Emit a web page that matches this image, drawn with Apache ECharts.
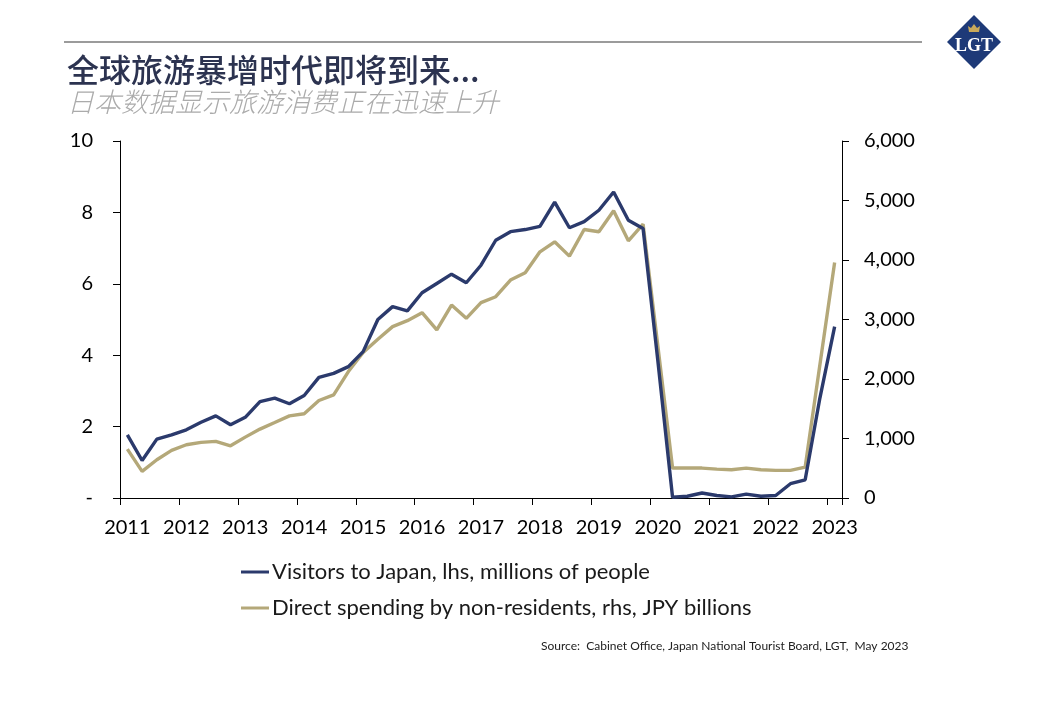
<!DOCTYPE html>
<html>
<head>
<meta charset="utf-8">
<script src="https://cdn.jsdelivr.net/npm/echarts@6/dist/echarts.min.js"></script>
<style>
html,body{margin:0;padding:0;background:#fff;}
#chart{width:1040px;height:720px;}
</style>
</head>
<body>
<div id="chart"></div>
<script>
// ---- Data ----
var years = ["2011","2012","2013","2014","2015","2016","2017","2018","2019","2020","2021","2022","2023"];
var quarterNames = ["Q1","Q2","Q3","Q4"];
// Visitors to Japan, lhs, millions of people (quarterly, 2011Q1 - 2023Q1)
var visitors = [1.77,1.05,1.65,1.77,1.91,2.12,2.30,2.05,2.26,2.70,
                2.80,2.64,2.87,3.38,3.49,3.68,4.10,5.00,5.36,5.24,
                5.75,6.01,6.27,6.03,6.52,7.22,7.46,7.52,7.61,8.29,
                7.57,7.74,8.06,8.57,7.78,7.55,3.85,0.02,0.05,0.14,
                0.07,0.03,0.11,0.05,0.07,0.40,0.51,2.80,4.80];
// Direct spending by non-residents, rhs, JPY billions
var spending = [822,447,643,800,895,934,951,878,1023,1158,
                1269,1381,1415,1638,1734,2125,2444,2667,2880,2980,
                3115,2824,3243,3020,3283,3383,3663,3786,4138,4306,
                4065,4513,4474,4826,4323,4602,2560,503,503,503,
                486,475,503,475,464,464,520,2240,3959];
var seriesNames = ["Visitors to Japan, lhs, millions of people",
                   "Direct spending by non-residents, rhs, JPY billions"];
var titleText = "全球旅游暴增时代即将到来...";
var subtitleText = "日本数据显示旅游消费正在迅速上升";
var sourceText = "Source:  Cabinet Office, Japan National Tourist Board, LGT,  May 2023";

var categories = [];
years.forEach(function(y){ quarterNames.forEach(function(q){ categories.push(y + " " + q); }); });
categories = categories.slice(0, visitors.length);

var BLUE = "#2b3a6c";
var GOLD = "#b4a879";
var FONT = "Lato, 'Open Sans', sans-serif";

var chart = echarts.init(document.getElementById('chart'), null, {renderer:'canvas'});
var option = {
  backgroundColor: '#ffffff',
  animation: false,
  title: {
    text: titleText,
    subtext: subtitleText,
    left: 62,
    top: 49,
    itemGap: 2,
    textStyle: {fontFamily: "'Noto Sans CJK SC', sans-serif", fontSize: 32, fontWeight: 500, color: '#2c3350'},
    subtextStyle: {fontFamily: "'Noto Sans CJK SC', sans-serif", fontSize: 27, fontStyle: 'italic', fontWeight: 300, color: '#ababab'}
  },
  legend: {
    orient: 'vertical',
    left: 236,
    top: 556,
    itemWidth: 28,
    itemHeight: 3,
    itemGap: 14,
    icon: 'rect',
    textStyle: {fontFamily: FONT, fontSize: 22, color: '#1a1a1a', padding: [0,0,0,-2]},
    data: seriesNames
  },
  grid: {left: 120, right: 198, top: 141, bottom: 222, containLabel: false},
  xAxis: {
    type: 'category',
    data: categories,
    boundaryGap: true,
    axisLine: {show: true, lineStyle: {color: '#000', width: 1}},
    axisTick: {show: true, interval: 3, length: 7, inside: false, lineStyle: {color: '#000'}},
    axisLabel: {
      interval: 3,
      margin: 20,
      fontFamily: FONT, fontSize: 20, color: '#000',
      formatter: function(v){ return v.split(' ')[0]; }
    },
    splitLine: {show: false}
  },
  yAxis: [
    {
      type: 'value', min: 0, max: 10, interval: 2, position: 'left',
      axisLine: {show: true, lineStyle: {color: '#000', width: 1}},
      axisTick: {show: true, length: 7, lineStyle: {color: '#000'}},
      axisLabel: {margin: 27, fontFamily: FONT, fontSize: 20, color: '#000',
        formatter: function(v){ return v === 0 ? '-' : String(v); }},
      splitLine: {show: false}
    },
    {
      type: 'value', min: 0, max: 6000, interval: 1000, position: 'right',
      axisLine: {show: true, lineStyle: {color: '#000', width: 1}},
      axisTick: {show: true, length: 7, lineStyle: {color: '#000'}},
      axisLabel: {margin: 22, fontFamily: FONT, fontSize: 20, color: '#000',
        formatter: function(v){ return v.toLocaleString('en-US'); }},
      splitLine: {show: false}
    }
  ],
  series: [
    {name: seriesNames[0], type: 'line', yAxisIndex: 0, data: visitors, symbol: 'none',
     lineStyle: {color: BLUE, width: 3.4}, itemStyle: {color: BLUE}, z: 3},
    {name: seriesNames[1], type: 'line', yAxisIndex: 1, data: spending, symbol: 'none',
     lineStyle: {color: GOLD, width: 3.4}, itemStyle: {color: GOLD}, z: 2}
  ],
  graphic: [
    {type: 'line', shape: {x1: 64, y1: 42, x2: 922, y2: 42}, style: {stroke: '#7a7a7a', lineWidth: 1.5}},
    {type: 'group', children: [
      {type: 'polygon', shape: {points: [[974,15],[1001,42],[974,69],[947,42]]}, style: {fill: '#1e3a78'}},
      {type: 'polygon', shape: {points: [[969,32],[968,26],[971,28],[974,24],[977,28],[980,26],[979,32]]}, style: {fill: '#c9a95a'}},
      {type: 'text', style: {text: 'LGT', x: 974, y: 46, align: 'center', verticalAlign: 'middle',
        fontFamily: "'Liberation Serif', 'DejaVu Serif', serif", fontSize: 18, fontWeight: 'bold', fill: '#ffffff'}}
    ]},
    {type: 'text', style: {text: sourceText, x: 541, y: 646, verticalAlign: 'middle',
      fontFamily: FONT, fontSize: 12, fill: '#222'}}
  ]
};
chart.setOption(option);
</script>
</body>
</html>
